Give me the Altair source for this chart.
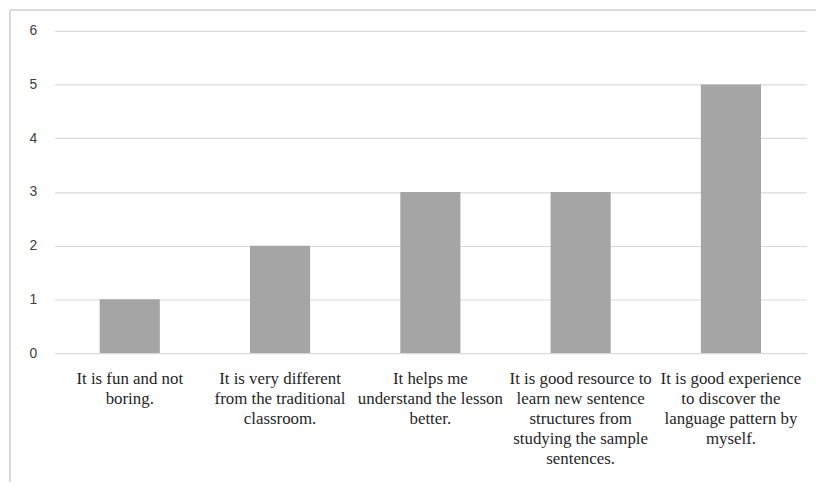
import altair as alt
import pandas as pd

categories = [
    "It is fun and not|boring.",
    "It is very different|from the traditional|classroom.",
    "It helps me|understand the lesson|better.",
    "It is good resource to|learn new sentence|structures from|studying the sample|sentences.",
    "It is good experience|to discover the|language pattern by|myself.",
]
values = [1, 2, 3, 3, 5]

df = pd.DataFrame({"category": categories, "value": values})

bars = alt.Chart(df).mark_bar(color="#a5a5a5").encode(
    x=alt.X(
        "category:N",
        sort=categories,
        title=None,
        scale=alt.Scale(paddingInner=0.6, paddingOuter=0.3),
        axis=alt.Axis(
            labelExpr="split(datum.label, '|')",
            labelAngle=0,
            labelFont="Liberation Serif",
            labelFontSize=17,
            labelLineHeight=20,
            labelColor="#262626",
            labelPadding=18,
            labelBaseline="top",
            domain=False,
            ticks=False,
            grid=False,
        ),
    ),
    y=alt.Y(
        "value:Q",
        title=None,
        scale=alt.Scale(domain=[0, 6]),
        axis=alt.Axis(
            values=[0, 1, 2, 3, 4, 5, 6],
            labelFont="Liberation Sans",
            labelFontSize=14,
            labelColor="#404040",
            labelPadding=18,
            domain=False,
            ticks=False,
            gridColor="#d9d9d9",
            gridWidth=1.2,
        ),
    ),
)

frame_top = alt.Chart(df).mark_rule(color="#d9d9d9", strokeWidth=1.2).encode(
    x=alt.value(-45), x2=alt.value(900), y=alt.value(-21)
)
frame_left = alt.Chart(df).mark_rule(color="#d9d9d9", strokeWidth=1.2).encode(
    x=alt.value(-45), y=alt.value(-21), y2=alt.value(600)
)

chart = alt.layer(bars, frame_top, frame_left).properties(
    width=758,
    height=325,
    autosize=alt.AutoSizeParams(type="none"),
    padding={"left": 47, "top": 21, "right": 10, "bottom": 128},
).configure_view(stroke=None)

chart.save("out.html", embed_options={"renderer": "svg", "actions": False})
